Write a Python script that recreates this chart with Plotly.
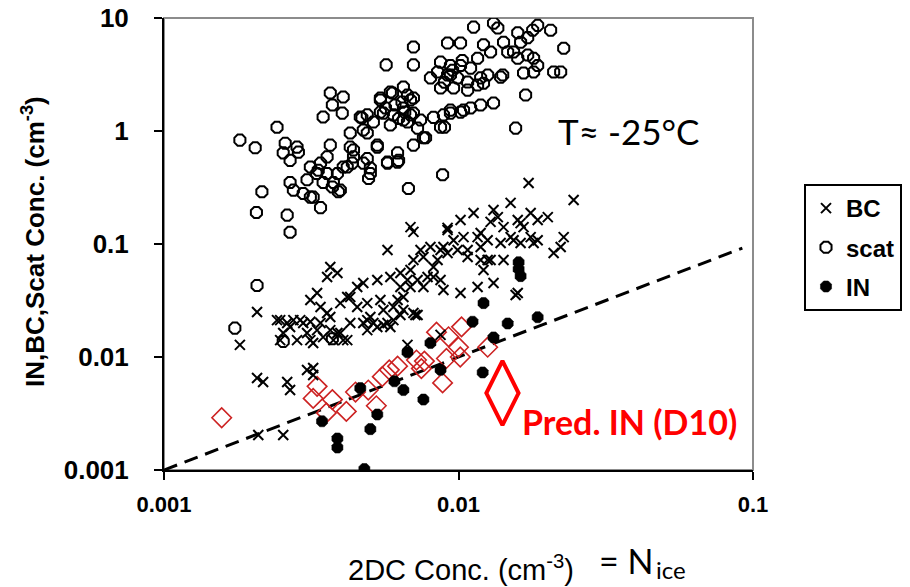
import plotly.graph_objects as go

# ---------------- data ----------------
scat_x = [0.00703, 0.00568, 0.00918, 0.00703, 0.00367, 0.00406, 0.00347, 0.00403, 0.00373, 0.00543,
          0.00597, 0.00556, 0.0065, 0.00687, 0.00703, 0.00743, 0.0065, 0.00587, 0.00464, 0.00475,
          0.00429, 0.0049, 0.00242, 0.00181, 0.00204, 0.00258, 0.00283, 0.00254, 0.00286, 0.00268,
          0.00367, 0.00358, 0.00429, 0.0044, 0.00419, 0.0053, 0.00621, 0.00574, 0.00626, 0.00703,
          0.00773, 0.00869, 0.00883, 0.00676, 0.00475, 0.00502, 0.00495, 0.00314, 0.0034, 0.0033,
          0.00358, 0.00306, 0.00347, 0.00391, 0.00373, 0.00268, 0.00275, 0.00297, 0.00314, 0.0034,
          0.00215, 0.00206, 0.00262, 0.00268, 0.00207, 0.00174, 0.00254, 0.00373, 0.01125, 0.01315,
          0.0136, 0.01857, 0.02055, 0.01786, 0.01589, 0.01625, 0.01718, 0.02276, 0.01016, 0.01216,
          0.01285, 0.01422, 0.01469, 0.01538, 0.01589, 0.01718, 0.01799, 0.01857, 0.01799, 0.01663,
          0.02104, 0.02223, 0.01413, 0.0169, 0.01563, 0.01161, 0.01099, 0.01189, 0.01256, 0.00869,
          0.00939, 0.01016, 0.00849, 0.00918, 0.00993, 0.01074, 0.00962, 0.01074, 0.00869, 0.00803,
          0.01161, 0.01315, 0.01189, 0.01099, 0.01016, 0.00939, 0.00889, 0.00896, 0.00822, 0.00703,
          0.00671, 0.00643, 0.00587, 0.00543, 0.00543, 0.00601, 0.0065, 0.00687, 0.00726, 0.00671,
          0.0049, 0.00514, 0.0053, 0.0076, 0.00621, 0.00574, 0.0049, 0.00502, 0.0139, 0.01216,
          0.0104, 0.00939, 0.00609, 0.00657, 0.00565, 0.00626, 0.00939, 0.00955, 0.00896, 0.0103,
          0.00388, 0.00406, 0.00436, 0.00334, 0.00321, 0.00397, 0.00376, 0.0044, 0.0047]
scat_y = [5.53, 3.85, 6.0, 3.85, 2.17, 2.0, 1.33, 1.44, 1.70, 1.88,
          2.17, 1.44, 2.45, 1.88, 1.44, 1.25, 1.25, 1.13, 1.33, 1.02,
          0.96, 0.96, 1.08, 0.83, 0.71, 0.78, 0.72, 0.64, 0.65, 0.55,
          0.75, 0.59, 0.72, 0.59, 0.48, 0.72, 0.64, 0.52, 0.55, 0.75,
          0.87, 1.08, 0.41, 0.31, 0.52, 0.42, 0.38, 0.48, 0.52, 0.42,
          0.42, 0.37, 0.35, 0.29, 0.32, 0.35, 0.30, 0.28, 0.26, 0.21,
          0.29, 0.19, 0.18, 0.127, 0.043, 0.018, 0.0137, 0.0145, 8.3, 9.0,
          8.15, 8.6, 7.8, 7.8, 7.4, 6.1, 6.7, 5.4, 6.0, 5.8,
          5.0, 6.1, 5.0, 5.0, 4.4, 4.7, 4.4, 3.8, 3.33, 3.26,
          3.33, 3.33, 3.13, 2.08, 1.06, 4.4, 3.6, 2.95, 3.13, 4.07,
          3.8, 3.8, 3.33, 3.13, 2.95, 2.71, 2.40, 2.3, 2.4, 2.95,
          2.55, 1.77, 1.70, 1.6, 1.47, 1.53, 1.39, 1.08, 1.32, 1.96,
          2.08, 1.80, 2.21, 1.96, 1.47, 1.39, 1.60, 1.39, 1.06, 1.2,
          1.39, 1.2, 0.75, 0.87, 0.53, 0.53, 0.57, 0.47, 3.0, 2.65,
          1.53, 1.44, 1.70, 1.47, 1.6, 1.29, 3.13, 3.45, 2.7, 4.2,
          0.42, 0.48, 0.52, 0.45, 0.26, 0.30, 0.35, 0.68, 1.31]

bc_x = [0.00703, 0.00918, 0.00574, 0.00367, 0.00388, 0.00358, 0.00453, 0.00429, 0.00475, 0.0053,
        0.00587, 0.00635, 0.00687, 0.00703, 0.00743, 0.00803, 0.00869, 0.00849, 0.00635, 0.00687,
        0.00726, 0.00785, 0.00889, 0.00621, 0.0065, 0.00714, 0.00556, 0.00502, 0.00475, 0.0053,
        0.00587, 0.00429, 0.00331, 0.00314, 0.0034, 0.00358, 0.00397, 0.00419, 0.0029, 0.00268,
        0.00242, 0.00254, 0.00283, 0.00306, 0.00331, 0.00347, 0.00388, 0.00406, 0.00321, 0.00207,
        0.00181, 0.00207, 0.00217, 0.00262, 0.00268, 0.00306, 0.00321, 0.00321, 0.00209, 0.00254,
        0.0173, 0.0246, 0.01503, 0.01315, 0.01125, 0.01016, 0.00962, 0.0104, 0.01161, 0.01285,
        0.0136, 0.01422, 0.01589, 0.01758, 0.01857, 0.0201, 0.01663, 0.01758, 0.01857, 0.01625,
        0.01503, 0.0139, 0.01256, 0.01189, 0.01074, 0.00993, 0.00889, 0.0076, 0.02276, 0.02223,
        0.02104, 0.01256, 0.01422, 0.00822, 0.01016, 0.01161, 0.01315, 0.01589, 0.0076, 0.01625,
        0.00918, 0.01189, 0.01538, 0.01799, 0.00687, 0.00918, 0.01074, 0.01189, 0.01285, 0.00822,
        0.00869, 0.01216, 0.01563, 0.00703, 0.00671, 0.00601, 0.0065, 0.00543, 0.0049, 0.00453,
        0.00248, 0.00275, 0.00297, 0.0034, 0.00367, 0.0049, 0.00574, 0.00262, 0.00314, 0.00367,
        0.00397, 0.00376, 0.00419, 0.00314, 0.00248, 0.00514, 0.00556, 0.00601, 0.00635, 0.00726,
        0.0049, 0.00671, 0.00869]
bc_y = [0.128, 0.133, 0.0885, 0.0626, 0.0553, 0.051, 0.0416, 0.034, 0.0452, 0.048,
        0.051, 0.0553, 0.0589, 0.0722, 0.0885, 0.094, 0.0885, 0.0722, 0.0416, 0.0416,
        0.048, 0.051, 0.0392, 0.0319, 0.0261, 0.0235, 0.0261, 0.0226, 0.020, 0.0184,
        0.0184, 0.020, 0.0368, 0.0319, 0.0277, 0.0245, 0.030, 0.034, 0.0212, 0.0184,
        0.0212, 0.0163, 0.0141, 0.0163, 0.0173, 0.015, 0.0163, 0.0141, 0.0133, 0.025,
        0.0128, 0.00652, 0.00601, 0.00601, 0.0051, 0.00767, 0.008, 0.00693, 0.00204, 0.00204,
        0.347, 0.245, 0.231, 0.20, 0.188, 0.163, 0.108, 0.115, 0.115, 0.157,
        0.173, 0.141, 0.163, 0.188, 0.163, 0.173, 0.141, 0.115, 0.108, 0.102,
        0.115, 0.102, 0.108, 0.094, 0.0885, 0.0885, 0.094, 0.0767, 0.115, 0.094,
        0.0832, 0.0722, 0.0722, 0.051, 0.0368, 0.0416, 0.0452, 0.0368, 0.0416, 0.153,
        0.139, 0.125, 0.108, 0.102, 0.141, 0.0832, 0.0767, 0.0722, 0.0722, 0.0626,
        0.048, 0.0589, 0.0354, 0.0245, 0.048, 0.0277, 0.034, 0.0319, 0.030, 0.0277,
        0.0212, 0.0212, 0.020, 0.020, 0.0226, 0.0212, 0.020, 0.020, 0.0205, 0.0173,
        0.0163, 0.0141, 0.0141, 0.0141, 0.0141, 0.020, 0.0192, 0.0212, 0.0235, 0.0235,
        0.0173, 0.0128, 0.0157]

in_x = [0.01116, 0.01469, 0.01857, 0.00803, 0.00671, 0.01315, 0.00869, 0.01208, 0.00464, 0.00606,
        0.0065, 0.0076, 0.00344, 0.0053, 0.00502, 0.00388, 0.00388, 0.00479, 0.016, 0.016,
        0.01625, 0.01216]
in_y = [0.0205, 0.0198, 0.0225, 0.0133, 0.0110, 0.0149, 0.0077, 0.0073, 0.0053, 0.0061,
        0.0051, 0.0042, 0.0027, 0.0031, 0.0023, 0.0019, 0.00158, 0.00102, 0.069, 0.060,
        0.052, 0.030]

pred_x = [0.00157, 0.00331, 0.00321, 0.00373, 0.00356, 0.00416, 0.00447, 0.00494, 0.00526, 0.00551,
          0.00582, 0.00621, 0.0072, 0.00748, 0.00766, 0.00842, 0.00925, 0.01024, 0.0100, 0.0091,
          0.01014, 0.00883, 0.01256]
pred_y = [0.0029, 0.0055, 0.0043, 0.0042, 0.0032, 0.0033, 0.0049, 0.0051, 0.0037, 0.0067,
          0.0077, 0.0083, 0.0094, 0.0079, 0.0092, 0.0166, 0.0151, 0.0185, 0.0122, 0.0097,
          0.0100, 0.0059, 0.0122]

line_x = [0.001, 0.092]          # 1:1 line
line_y = [0.001, 0.092]

key_x = [0.0141]                 # big diamond key for "Pred. IN (D10)"
key_y = [0.0048]

x_tickvals = [0.001, 0.01, 0.1]
x_ticktext = ["0.001", "0.01", "0.1"]
y_tickvals = [0.001, 0.01, 0.1, 1, 10]
y_ticktext = ["0.001", "0.01", "0.1", "1", "10"]

# ---------------- figure ----------------
RED = "#cc2222"
BRIGHT_RED = "#ff0000"
ARIAL = "Liberation Sans, Arial, sans-serif"
CAL = "Lato, Carlito, sans-serif"

L, R, T, B = 164, 157, 18, 117
PW, PH = 910 - L - R, 587 - T - B


def px(xp):
    return (xp - L) / PW


def py(yp):
    return (587 - B - yp) / PH


fig = go.Figure()

fig.add_trace(go.Scatter(x=line_x, y=line_y, mode="lines", showlegend=False,
                         line=dict(color="black", width=3, dash="14px,8px"), hoverinfo="skip"))

fig.add_trace(go.Scatter(x=pred_x, y=pred_y, mode="markers", showlegend=False, name="Pred. IN",
                         marker=dict(symbol="diamond-open", size=15, color=RED, line=dict(width=1.6, color=RED))))

fig.add_trace(go.Scatter(x=bc_x, y=bc_y, mode="markers", name="BC", legendgroup="g1",
                         marker=dict(symbol="x-thin-open", size=10, color="black",
                                     line=dict(width=2, color="black"))))

fig.add_trace(go.Scatter(x=scat_x, y=scat_y, mode="markers", name="scat", legendgroup="g2",
                         marker=dict(symbol="octagon-open", size=12, color="black",
                                     line=dict(width=2, color="black"))))

fig.add_trace(go.Scatter(x=in_x, y=in_y, mode="markers", name="IN", legendgroup="g3",
                         marker=dict(symbol="octagon", size=12, color="black",
                                     line=dict(width=0.5, color="black"))))

fig.add_trace(go.Scatter(x=key_x, y=key_y, mode="markers", showlegend=False,
                         marker=dict(symbol="diamond-tall-open", size=46, color=BRIGHT_RED,
                                     line=dict(width=4, color=BRIGHT_RED))))

fig.update_layout(
    width=910, height=587,
    margin=dict(l=L, r=R, t=T, b=B, autoexpand=False),
    paper_bgcolor="white", plot_bgcolor="white",
    showlegend=True,
    legend=dict(x=px(804), y=py(184), xanchor="left", yanchor="top",
                bordercolor="black", borderwidth=2, bgcolor="white",
                font=dict(family=ARIAL, size=24, color="black", weight="bold"),
                itemwidth=30, tracegroupgap=5),
    shapes=[dict(type="rect", xref="paper", yref="paper", x0=0, x1=1, y0=0, y1=1,
                 line=dict(color="#8c8c8c", width=2), layer="below")],
)

fig.update_xaxes(type="log", range=[-3, -1], tickvals=x_tickvals, ticktext=x_ticktext,
                 showgrid=False, zeroline=False, showline=True, linecolor="black", linewidth=2,
                 ticks="outside", ticklen=8, tickwidth=2, tickcolor="black", ticklabelstandoff=6,
                 tickfont=dict(family=ARIAL, size=22, color="black", weight="bold"),
                 title=dict(text=""), automargin=False)

fig.update_yaxes(type="log", range=[-3, 1], tickvals=y_tickvals, ticktext=y_ticktext,
                 showgrid=False, zeroline=False, showline=True, linecolor="black", linewidth=2,
                 ticks="outside", ticklen=8, tickwidth=2, tickcolor="black", ticklabelstandoff=20,
                 tickfont=dict(family=ARIAL, size=26, color="black", weight="bold"),
                 title=dict(text=""), automargin=False)

# axis titles
fig.add_annotation(xref="paper", yref="paper", x=px(33), y=py(242),
                   text="IN,BC,Scat Conc. (cm<sup>-3</sup>)", textangle=-90, showarrow=False,
                   xanchor="center", yanchor="middle",
                   font=dict(family=ARIAL, size=26, color="black", weight="bold"))
fig.add_annotation(xref="paper", yref="paper", x=px(461), y=py(568),
                   text="2DC Conc. (cm<sup>-3</sup>)", showarrow=False, xanchor="center", yanchor="middle",
                   font=dict(family=ARIAL, size=29, color="black"))

fig.add_annotation(xref="paper", yref="paper", x=px(628), y=py(131),
                   text="T≈ -25°C", showarrow=False, xanchor="center", yanchor="middle",
                   font=dict(family=CAL, size=35, color="black"))
fig.add_annotation(xref="paper", yref="paper", x=px(520), y=py(421),
                   text="Pred. IN (D10)", showarrow=False, xanchor="left", yanchor="middle",
                   font=dict(family=CAL, size=34, color=BRIGHT_RED, weight="bold"))
fig.add_annotation(xref="paper", yref="paper", x=px(597), y=py(560),
                   text="= N", showarrow=False, xanchor="left", yanchor="middle",
                   font=dict(family=CAL, size=34, color="black"))
fig.add_annotation(xref="paper", yref="paper", x=px(654), y=py(569),
                   text="ice", showarrow=False, xanchor="left", yanchor="middle",
                   font=dict(family=CAL, size=24, color="black"))

fig.write_html("out.html", config={"displayModeBar": False},
               post_script="document.documentElement.style.margin='0';"
                           "document.body.style.margin='0';"
                           "document.body.style.overflow='hidden';")
